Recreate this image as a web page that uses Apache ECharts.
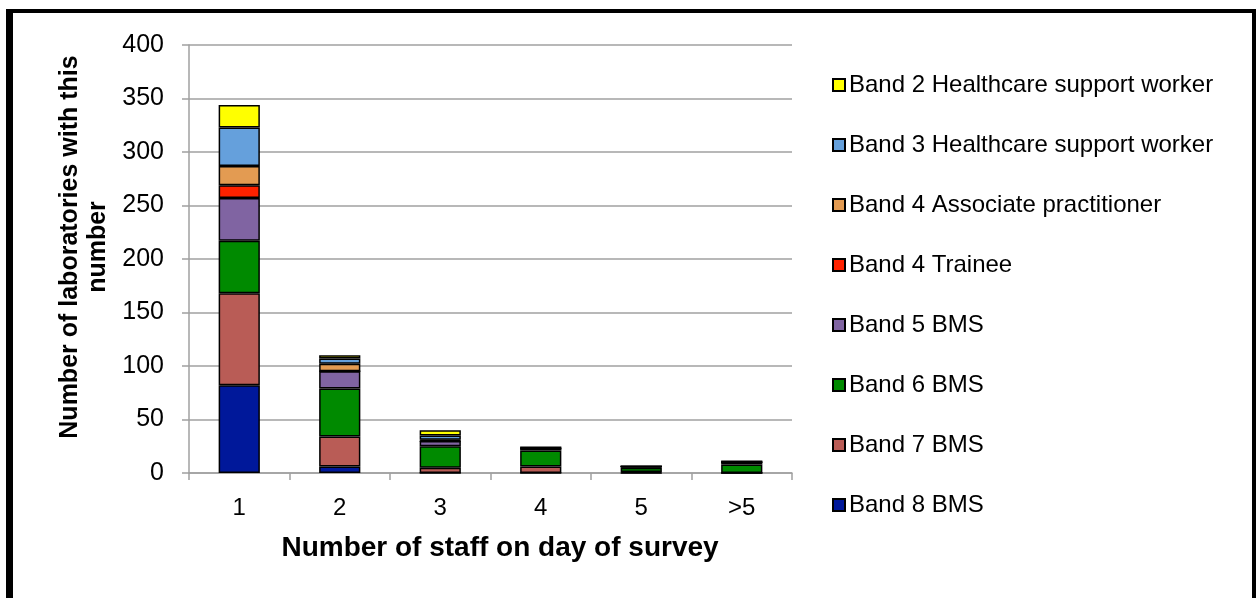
<!DOCTYPE html>
<html>
<head>
<meta charset="utf-8">
<script src="https://cdn.jsdelivr.net/npm/echarts@6/dist/echarts.min.js"></script>
<style>
  html, body { margin: 0; padding: 0; background: #ffffff; }
  #chart { width: 1257px; height: 598px; }
</style>
</head>
<body>
<div id="chart"></div>
<script>
// Staff counts per laboratory, stacked by band
const categories = ['1', '2', '3', '4', '5', '>5'];

const band8BMS       = [82,  6,  0,  0, 0, 0];
const band7BMS       = [86, 28,  5,  6, 1, 0];
const band6BMS       = [49, 45, 20, 15, 4, 8];
const band5BMS       = [40, 16,  5,  2, 1, 2];
const band4Trainee   = [12,  0,  0,  0, 0, 0];
const band4Associate = [18,  7,  1,  0, 0, 0];
const band3HCSW      = [36,  5,  4,  1, 0, 1];
const band2HCSW      = [21,  3,  5,  0, 0, 0];

const yTicks = { min: 0, max: 400, interval: 50 };

const FONT = '"Liberation Sans", Arial, Helvetica, sans-serif';

// Bottom of the stack first
const seriesDefs = [
  { name: 'Band 8 BMS', data: band8BMS, color: '#00189a' },
  { name: 'Band 7 BMS', data: band7BMS, color: '#b95c56' },
  { name: 'Band 6 BMS', data: band6BMS, color: '#008a00' },
  { name: 'Band 5 BMS', data: band5BMS, color: '#8064a2' },
  { name: 'Band 4 Trainee', data: band4Trainee, color: '#ff2200' },
  { name: 'Band 4 Associate practitioner', data: band4Associate, color: '#e39b52' },
  { name: 'Band 3 Healthcare support worker', data: band3HCSW, color: '#65a0dc' },
  { name: 'Band 2 Healthcare support worker', data: band2HCSW, color: '#ffff00' }
];

const chart = echarts.init(document.getElementById('chart'), null, { renderer: 'canvas' });

chart.setOption({
  animation: false,
  backgroundColor: '#ffffff',
  textStyle: { fontFamily: FONT, color: '#000000' },
  grid: { left: 189, right: 465, top: 45, bottom: 125, containLabel: false },
  legend: {
    orient: 'vertical',
    left: 832,
    top: 73,
    padding: 0,
    itemWidth: 12,
    itemHeight: 12,
    itemGap: 36,
    icon: 'rect',
    textStyle: { fontFamily: FONT, fontSize: 24, color: '#000000', padding: [0, 0, 0, -1] },
    data: seriesDefs.map(s => s.name).reverse()
  },
  xAxis: {
    type: 'category',
    data: categories,
    axisLine: { show: true, lineStyle: { color: '#a0a0a0', width: 1.5 } },
    axisTick: { show: true, length: 7, lineStyle: { color: '#a0a0a0', width: 1.5 } },
    axisLabel: { fontFamily: FONT, fontSize: 24, color: '#000000', margin: 23 },
    splitLine: { show: false }
  },
  yAxis: {
    type: 'value',
    min: yTicks.min,
    max: yTicks.max,
    interval: yTicks.interval,
    axisLine: { show: true, lineStyle: { color: '#a0a0a0', width: 1.5 } },
    axisTick: { show: true, length: 7, lineStyle: { color: '#a0a0a0', width: 1.5 } },
    axisLabel: { fontFamily: FONT, fontSize: 25, color: '#000000', margin: 25 },
    splitLine: { show: true, lineStyle: { color: '#a0a0a0', width: 1.5 } }
  },
  series: seriesDefs.map(s => ({
    name: s.name,
    type: 'bar',
    stack: 'staff',
    data: s.data,
    barCategoryGap: '59%',
    itemStyle: { color: s.color, borderColor: '#000000', borderWidth: 1.5 },
    emphasis: { disabled: true }
  })),
  graphic: [
    // frame around the figure
    { type: 'rect', shape: { x: 6, y: 9, width: 7, height: 600 }, style: { fill: '#000000' }, silent: true },
    { type: 'rect', shape: { x: 6, y: 9, width: 1250, height: 4 }, style: { fill: '#000000' }, silent: true },
    { type: 'rect', shape: { x: 1252, y: 9, width: 4, height: 600 }, style: { fill: '#000000' }, silent: true },
    {
      type: 'text',
      x: 84,
      y: 247,
      rotation: Math.PI / 2,
      style: {
        text: 'Number of laboratories with this\nnumber',
        fontFamily: FONT,
        fontSize: 25,
        fontWeight: 'bold',
        lineHeight: 28,
        fill: '#000000',
        align: 'center',
        verticalAlign: 'middle'
      },
      silent: true
    },
    {
      type: 'text',
      x: 500,
      y: 548,
      style: {
        text: 'Number of staff on day of survey',
        fontFamily: FONT,
        fontSize: 28,
        fontWeight: 'bold',
        fill: '#000000',
        align: 'center',
        verticalAlign: 'middle'
      },
      silent: true
    }
  ]
});
</script>
</body>
</html>
